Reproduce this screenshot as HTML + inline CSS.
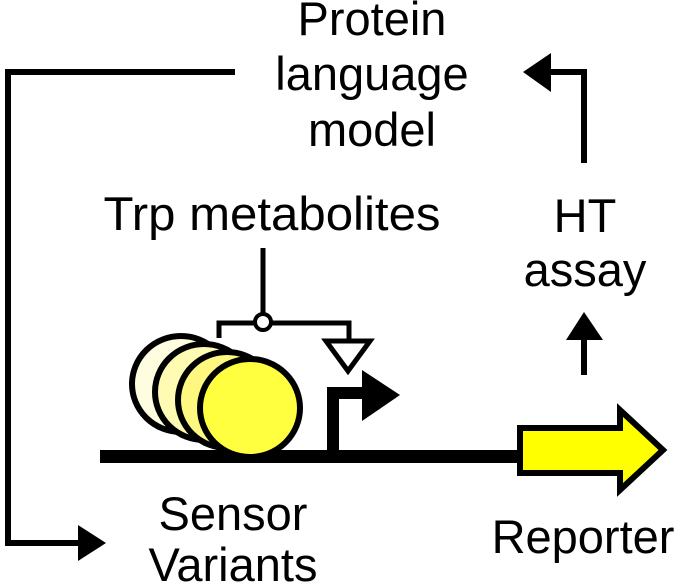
<!DOCTYPE html>
<html><head><style>html,body{margin:0;padding:0;background:#fff}svg{display:block}</style></head>
<body>
<svg width="682" height="586" viewBox="0 0 682 586" xmlns="http://www.w3.org/2000/svg" font-family="Liberation Sans, Arial, sans-serif" font-size="47" text-anchor="middle" fill="#000">
<text x="372" y="35">Protein</text>
<text x="372" y="90">language</text>
<text x="372" y="146">model</text>
<text x="272" y="230" textLength="337" lengthAdjust="spacingAndGlyphs">Trp metabolites</text>
<text x="585" y="232">HT</text>
<text x="585" y="286">assay</text>
<text x="233" y="530">Sensor</text>
<text x="233" y="581">Variants</text>
<text x="583" y="553">Reporter</text>
<!-- feedback loop -->
<polyline points="235,72 8,72 8,543 82,543" fill="none" stroke="#000" stroke-width="6"/>
<polygon points="78,525 106,543 78,561" fill="#000"/>
<!-- upper right arrow -->
<polyline points="584,163 584,72 548,72" fill="none" stroke="#000" stroke-width="6"/>
<polygon points="551,53 523,72 551,92" fill="#000"/>
<!-- small arrow -->
<line x1="584" y1="375" x2="584" y2="338" stroke="#000" stroke-width="6"/>
<polygon points="566,340 584,312 603,340" fill="#000"/>
<!-- baseline -->
<rect x="100" y="450" width="425" height="13" fill="#000"/>
<!-- circles -->
<ellipse cx="181" cy="384" rx="49" ry="48" fill="#fffde0" stroke="#000" stroke-width="6"/>
<ellipse cx="204" cy="392" rx="49" ry="48" fill="#fffbb2" stroke="#000" stroke-width="6"/>
<ellipse cx="227" cy="400" rx="49" ry="48" fill="#fff880" stroke="#000" stroke-width="6"/>
<ellipse cx="250" cy="408" rx="50" ry="49" fill="#ffff40" stroke="#000" stroke-width="6"/>
<!-- promoter -->
<polyline points="333,452 333,393 366,393" fill="none" stroke="#000" stroke-width="12"/>
<polygon points="362,370 400,395 362,421" fill="#000"/>
<!-- regulation -->
<line x1="263" y1="248" x2="263" y2="314" stroke="#000" stroke-width="5"/>
<polyline points="219,338 219,323 349,323 349,340" fill="none" stroke="#000" stroke-width="5"/>
<circle cx="263" cy="322" r="8" fill="#fff" stroke="#000" stroke-width="4"/>
<polygon points="326,341 370,341 348,371" fill="#fff" stroke="#000" stroke-width="5"/>
<!-- reporter arrow -->
<polygon points="520,428 620,428 620,410 663,450 620,490 620,473 520,473" fill="#ffff00" stroke="#000" stroke-width="6"/>
</svg>
</body></html>
